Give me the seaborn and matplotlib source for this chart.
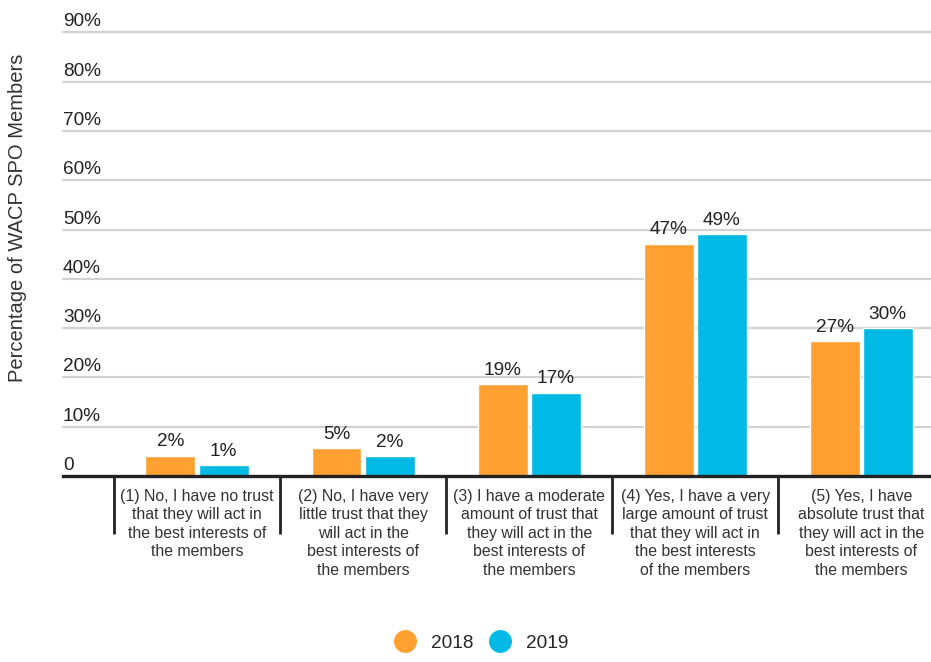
import pandas as pd
import matplotlib.pyplot as plt
import matplotlib.transforms as mtransforms
from matplotlib.lines import Line2D
import seaborn as sns

# Datos
categorias = [
    "(1) No, I have no trust\nthat they will act in\nthe best interests of\nthe members",
    "(2) No, I have very\nlittle trust that they\nwill act in the\nbest interests of\nthe members",
    "(3) I have a moderate\namount of trust that\nthey will act in the\nbest interests of\nthe members",
    "(4) Yes, I have a very\nlarge amount of trust\nthat they will act in\nthe best interests\nof the members",
    "(5) Yes, I have\nabsolute trust that\nthey will act in the\nbest interests of\nthe members",
]
anios = ["2018", "2019"]
alturas_2018 = [4.1, 5.6, 18.6, 47.1, 27.3]
alturas_2019 = [2.2, 4.0, 16.9, 49.0, 30.0]
etiquetas_2018 = ["2%", "5%", "19%", "47%", "27%"]
etiquetas_2019 = ["1%", "2%", "17%", "49%", "30%"]
ticks_y = [0, 10, 20, 30, 40, 50, 60, 70, 80, 90]
ticks_y_txt = ["0", "10%", "20%", "30%", "40%", "50%", "60%", "70%", "80%", "90%"]
colores = {"2018": "#FFA030", "2019": "#00B9E4"}

df = pd.DataFrame({
    "categoria": categorias * 2,
    "anio": ["2018"] * 5 + ["2019"] * 5,
    "valor": alturas_2018 + alturas_2019,
})

sns.set_style("white")
plt.rcParams['font.family'] = ['Liberation Sans', 'DejaVu Sans']

fig = plt.figure(figsize=(9.31, 6.62), dpi=100)
ax = fig.add_axes([63 / 931, (662 - 476) / 662, 1 - 63 / 931, (476 - 32.3) / 662])

sns.barplot(data=df, x="categoria", y="valor", hue="anio", order=categorias,
            hue_order=anios, palette=colores, width=0.64, gap=0.06,
            saturation=1, ax=ax, legend=False)

ax.set_ylim(0, 90)
ax.set_xlim(-0.807, 4.42)

# Rejilla horizontal
for v in ticks_y[1:]:
    ax.axhline(v, color="#d2d2d2", lw=1.6, zorder=0, clip_on=False)

# Etiquetas del eje Y encima de cada línea
ax.set_yticks([])
trans = mtransforms.offset_copy(ax.get_yaxis_transform(), fig=fig, x=0, y=6, units='dots')
for v, t in zip(ticks_y, ticks_y_txt):
    ax.text(0, v, t, transform=trans, ha='left', va='baseline', fontsize=13.7, color="#222222")

# Etiquetas de categoría y separadores
ax.set_xticks(range(5))
ax.set_xticklabels(categorias, fontsize=11.4, color="#333333", linespacing=1.3, va='top')
ax.tick_params(axis='x', which='major', length=0, pad=9)
ax.set_xticks([-0.5, 0.5, 1.5, 2.5, 3.5], minor=True)
ax.tick_params(axis='x', which='minor', bottom=True, length=42, width=2,
               color="#222222", direction='out')

for s in ["top", "right", "left"]:
    ax.spines[s].set_visible(False)
ax.spines["bottom"].set_linewidth(2.4)
ax.spines["bottom"].set_color("#222222")
ax.set_xlabel("")
ax.set_ylabel("")

# Etiquetas de valores
ax.bar_label(ax.containers[0], labels=etiquetas_2018, padding=4, fontsize=13.7, color="#222222")
ax.bar_label(ax.containers[1], labels=etiquetas_2019, padding=4, fontsize=13.7, color="#222222")

fig.text(18 / 931, 1 - 218 / 662, "Percentage of WACP SPO Members", rotation=90,
         ha='center', va='center', fontsize=14.5, color="#333333")

# Leyenda
manejadores = [Line2D([0], [0], marker='o', linestyle='', markersize=16.5,
                      markerfacecolor=colores[a], markeredgewidth=0, label=a) for a in anios]
fig.legend(handles=manejadores, loc='center', bbox_to_anchor=(481 / 931, 1 - 643 / 662),
           ncol=2, frameon=False, fontsize=13.7, handletextpad=0.76, columnspacing=0.84,
           handlelength=1.2)

plt.savefig("out.png", dpi=100)
